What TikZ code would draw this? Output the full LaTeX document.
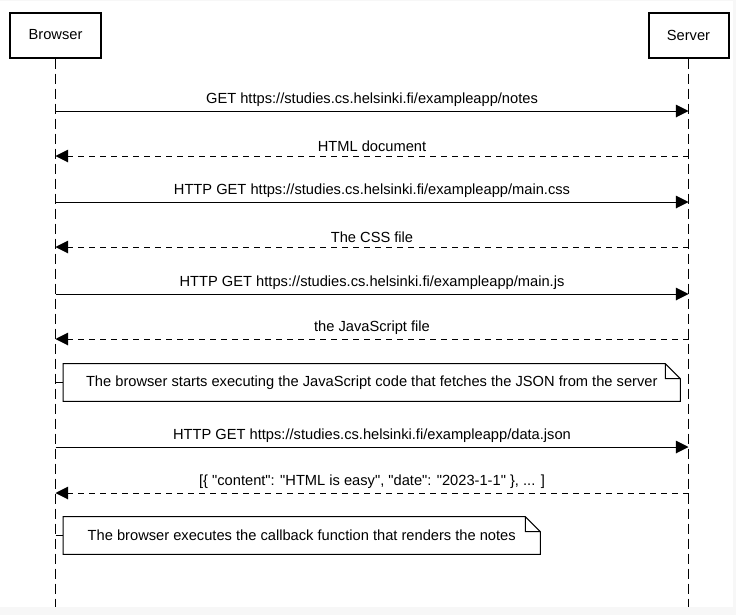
\documentclass[tikz,border=0pt]{standalone}
\usepackage{fontspec}
\setmainfont{Liberation Sans}
\usetikzlibrary{arrows.meta}

\begin{document}
\begin{tikzpicture}[x=0.75pt,y=-0.75pt,font=\fontsize{11pt}{13pt}\selectfont,
                actor/.style={draw,line width=1.5pt,inner sep=0mm,minimum height=33.75pt},
                life/.style={line width=0.75pt,dash pattern=on 7.5pt off 3.75pt},
                msg/.style={line width=0.75pt,-{Triangle[length=9.5pt,width=9.5pt]}},
                reply/.style={msg,dash pattern=on 4.5pt off 3.75pt},
                lbl/.style={above=3pt,inner sep=0mm},
                notebox/.style={inner sep=0mm,minimum height=27.75pt}]
                \fill[gray!6] (0,0) rectangle (736,615);
                \fill[white] (0,1) rectangle (733,607);
                \foreach \x/\w/\n/\t in {55.5/68.25/browser/Browser, 688.5/60/server/Server}
                \node[actor,minimum width=\w pt] (\n) at (\x,35) {\t};
                \coordinate (bend) at (55.5,607);
                \coordinate (send) at (688.5,607);
                \draw[life] (browser) -- (bend);
                \draw[life] (server) -- (send);
                \foreach \y/\n in {111/1, 156/2, 202/3, 247/4, 294/5, 339/6, 447/7, 493/8}
                {\coordinate (b\n) at (55.5,\y); \coordinate (s\n) at (688.5,\y);}
                \foreach \s/\t/\m/\l in {b1/s1/msg/{GET https://studies.cs.helsinki.fi/exampleapp/notes},
                        s2/b2/reply/HTML document,
                        b3/s3/msg/{HTTP GET https://studies.cs.helsinki.fi/exampleapp/main.css},
                        s4/b4/reply/The CSS file,
                        b5/s5/msg/{HTTP GET https://studies.cs.helsinki.fi/exampleapp/main.js},
                        s6/b6/reply/the JavaScript file,
                        b7/s7/msg/{HTTP GET https://studies.cs.helsinki.fi/exampleapp/data.json},
                        s8/b8/reply/{[\{ \textquotedbl content\textquotedbl: \textquotedbl HTML is easy\textquotedbl, \textquotedbl date\textquotedbl: \textquotedbl 2023-1-1\textquotedbl\ \}, ... ]}}
                \draw[\m] (\s) -- (\t) node[lbl,midway] (l\s) {\l};
                \foreach \x/\y/\w/\n/\t in {371.75/382.5/462.4/note1/The browser starts executing the JavaScript code that fetches the JSON from the server,
                        301.75/535.5/357.4/note2/The browser executes the callback function that renders the notes}
                {\node[notebox,minimum width=\w pt] (\n) at (\x,\y) {\t};
                \coordinate (t\n) at (55.5,\y);
                \draw[line width=0.75pt] (\n.south west) -- (\n.north west) -- ([xshift=-11.25pt]\n.north east)
                        -- ([yshift=-11.25pt]\n.north east) -- (\n.south east) -- cycle
                        ([xshift=-11.25pt]\n.north east) |- ([yshift=-11.25pt]\n.north east);
                \draw[line width=0.75pt] (t\n) -- (\n.west);}

            \end{tikzpicture}
\end{document}
